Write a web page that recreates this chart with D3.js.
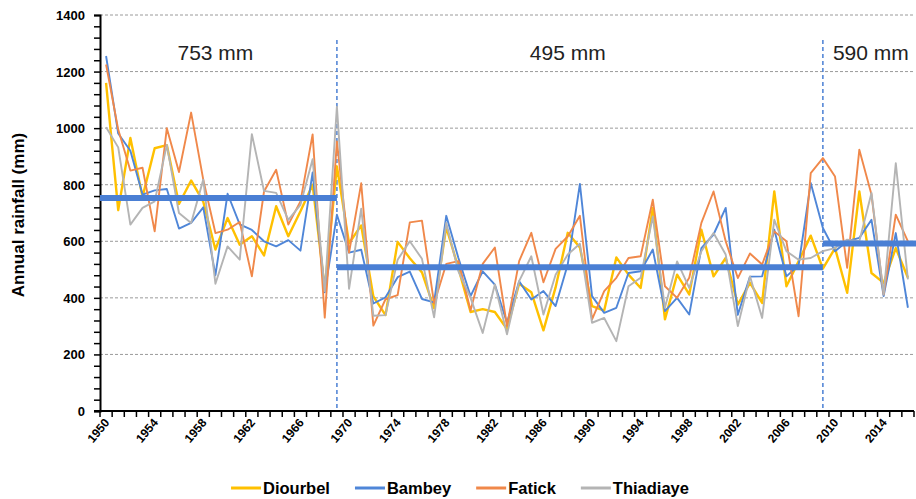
<!DOCTYPE html>
<html>
<head>
<meta charset="utf-8">
<title>Annual rainfall</title>
<script src="https://d3js.org/d3.v7.min.js"></script>
<style>
  body { margin: 0; background: #fff; }
  svg text { font-family: "Liberation Sans", Arial, sans-serif; }
</style>
</head>
<body>
<div id="chart"></div>
<script>
// data, one value per year 1950..2016
var years = d3.range(1950, 2017);
var tickYears = [1950, 1954, 1958, 1962, 1966, 1970, 1974, 1978, 1982, 1986, 1990, 1994, 1998, 2002, 2006, 2010, 2014];

var diourbel = [1160, 710, 965, 757, 929, 940, 732, 815, 740, 571,
                682, 588, 618, 550, 724, 618, 706, 800, 432, 865,
                593, 656, 405, 339, 598, 540, 490, 364, 650, 505,
                350, 360, 350, 290, 450, 420, 285, 437, 630, 578,
                371, 355, 543, 482, 435, 718, 324, 482, 412, 641,
                476, 541, 376, 453, 382, 776, 441, 529, 620, 503,
                576, 418, 776, 488, 453, 576, 471];
var bambey = [1255, 981, 920, 765, 780, 785, 645, 665, 720, 480,
              768, 660, 640, 600, 582, 604, 567, 843, 420, 694,
              560, 570, 380, 402, 473, 493, 396, 384, 690, 541,
              406, 494, 447, 312, 459, 394, 424, 371, 518, 803,
              406, 347, 365, 488, 494, 571, 353, 400, 341, 576,
              624, 718, 340, 475, 476, 641, 476, 515, 806, 647,
              565, 600, 612, 676, 406, 629, 365];
var fatick = [1225, 995, 850, 860, 635, 1000, 845, 1055, 818, 629,
              641, 668, 476, 776, 853, 659, 741, 978, 330, 953,
              560, 805, 302, 395, 410, 667, 673, 380, 520, 530,
              355, 520, 578, 300, 530, 630, 455, 573, 617, 690,
              324, 424, 471, 541, 547, 747, 441, 400, 471, 665,
              776, 600, 470, 557, 518, 635, 600, 335, 841, 894,
              829, 506, 924, 765, 412, 694, 600];
var thiadiaye = [1003, 932, 659, 718, 741, 941, 700, 665, 818, 450,
                 582, 535, 979, 778, 771, 676, 729, 890, 424, 1076,
                 432, 715, 337, 339, 535, 600, 538, 331, 665, 494,
                 400, 276, 447, 271, 459, 547, 341, 482, 553, 591,
                 312, 329, 247, 441, 471, 688, 365, 529, 435, 565,
                 629, 553, 300, 476, 329, 676, 565, 535, 541, 565,
                 576, 606, 600, 771, 412, 876, 465];

var seriesNames = ["Diourbel", "Bambey", "Fatick", "Thiadiaye"];
var seriesColors = ["#ffc000", "#4f86d8", "#f0884a", "#b4b4b4"];
var seriesValues = [diourbel, bambey, fatick, thiadiaye];

// break periods and their mean levels
var periodStart = [1950, 1969, 2009];
var periodEnd = [1969, 2009, 2016];
var periodMean = [753, 508, 592];
var periodLabel = ["753 mm", "495 mm", "590 mm"];
var breakYears = [1969, 2009];

var yTicks = [0, 200, 400, 600, 800, 1000, 1200, 1400];

var W = 916, H = 499;
var mLeft = 100, mRight = 914, mTop = 15, mBottom = 411;
var accent = "#4a7fd4";

var svg = d3.select("#chart").append("svg")
    .attr("width", W)
    .attr("height", H);

var x = d3.scaleBand().domain(years).range([mLeft, mRight]).padding(0);
var y = d3.scaleLinear().domain([0, 1400]).range([mBottom, mTop]);
function cx(yr) { return x(yr) + x.bandwidth() / 2; }

// dashed grid
svg.append("g").selectAll("line")
    .data(yTicks.filter(function(d) { return d > 0; }))
    .enter().append("line")
    .attr("x1", mLeft).attr("x2", mRight)
    .attr("y1", function(d) { return y(d); })
    .attr("y2", function(d) { return y(d); })
    .attr("stroke", "#9a9a9a")
    .attr("stroke-width", 1)
    .attr("stroke-dasharray", "3,2");

// y axis: major ticks every 200, minor every 40
var yAxis = svg.append("g")
    .attr("transform", "translate(" + mLeft + ",0)")
    .call(d3.axisLeft(y).tickValues(d3.range(0, 1401, 40)).tickSize(6).tickFormat(""));
yAxis.select(".domain").attr("stroke", "#000").attr("stroke-width", 2);
yAxis.selectAll(".tick line").attr("stroke", "#000").attr("stroke-width", 1.5);

svg.append("g").selectAll("text")
    .data(yTicks)
    .enter().append("text")
    .attr("x", mLeft - 15)
    .attr("y", function(d) { return y(d) + 5; })
    .attr("text-anchor", "end")
    .attr("font-size", 13)
    .attr("font-weight", "bold")
    .text(function(d) { return d; });

svg.append("text")
    .attr("transform", "translate(24," + ((mTop + mBottom) / 2 + 2) + ") rotate(-90)")
    .attr("text-anchor", "middle")
    .attr("font-size", 17)
    .attr("font-weight", "bold")
    .text("Annual rainfall (mm)");

// x axis with a tick at every category edge
var xg = svg.append("g");
xg.selectAll("line.tk")
    .data(years.concat([null]))
    .enter().append("line")
    .attr("class", "tk")
    .attr("x1", function(d) { return d === null ? mRight : x(d); })
    .attr("x2", function(d) { return d === null ? mRight : x(d); })
    .attr("y1", mBottom)
    .attr("y2", mBottom + 6)
    .attr("stroke", "#000")
    .attr("stroke-width", 1.5);
xg.append("line")
    .attr("x1", mLeft - 6).attr("x2", mRight)
    .attr("y1", mBottom).attr("y2", mBottom)
    .attr("stroke", "#000")
    .attr("stroke-width", 2);
xg.selectAll("text")
    .data(tickYears)
    .enter().append("text")
    .attr("transform", function(d) { return "translate(" + (cx(d) + 4) + "," + (mBottom + 12) + ") rotate(-50)"; })
    .attr("text-anchor", "end")
    .attr("font-size", 12)
    .attr("font-weight", "bold")
    .text(function(d) { return d; });

// break lines
svg.append("g").selectAll("line")
    .data(breakYears)
    .enter().append("line")
    .attr("x1", function(d) { return cx(d); })
    .attr("x2", function(d) { return cx(d); })
    .attr("y1", 40)
    .attr("y2", mBottom)
    .attr("stroke", accent)
    .attr("stroke-width", 1.5)
    .attr("stroke-dasharray", "4,3");

// rainfall series
var line = d3.line()
    .x(function(d, i) { return cx(years[i]); })
    .y(function(d) { return y(d); });

svg.append("g").selectAll("path")
    .data(seriesValues)
    .enter().append("path")
    .attr("fill", "none")
    .attr("stroke", function(d, i) { return seriesColors[i]; })
    .attr("stroke-width", function(d, i) { return i === 0 ? 2.4 : 1.9; })
    .attr("stroke-linejoin", "round")
    .attr("d", line);

// period means
svg.append("g").selectAll("line")
    .data(periodMean)
    .enter().append("line")
    .attr("x1", function(d, i) { return periodStart[i] === years[0] ? mLeft : cx(periodStart[i]); })
    .attr("x2", function(d, i) { return periodEnd[i] === years[years.length - 1] ? W : cx(periodEnd[i]); })
    .attr("y1", function(d) { return y(d); })
    .attr("y2", function(d) { return y(d); })
    .attr("stroke", accent)
    .attr("stroke-width", 6);

var labelX = [cx(1959), cx(1988), cx(2009) + 10];
var labelAnchor = ["middle", "middle", "start"];
svg.append("g").selectAll("text")
    .data(periodLabel)
    .enter().append("text")
    .attr("x", function(d, i) { return labelX[i]; })
    .attr("y", 60)
    .attr("text-anchor", function(d, i) { return labelAnchor[i]; })
    .attr("font-family", "'Open Sans', sans-serif")
    .attr("font-size", 21)
    .attr("fill", "#222")
    .text(function(d) { return d; });

// legend, centred under the plot
var legend = svg.append("g");
var lx = 0;
seriesNames.forEach(function(name, i) {
    var g = legend.append("g").attr("transform", "translate(" + lx + ",0)");
    g.append("line")
        .attr("x1", 0).attr("x2", 30)
        .attr("y1", 0).attr("y2", 0)
        .attr("stroke", seriesColors[i])
        .attr("stroke-width", 3);
    var t = g.append("text")
        .attr("x", 32)
        .attr("y", 6)
        .attr("font-size", 16.5)
        .attr("font-weight", "bold")
        .text(name);
    lx += 32 + t.node().getComputedTextLength() + 25;
});
lx -= 25;
legend.attr("transform", "translate(" + (460 - lx / 2) + ",488)");
</script>
</body>
</html>
